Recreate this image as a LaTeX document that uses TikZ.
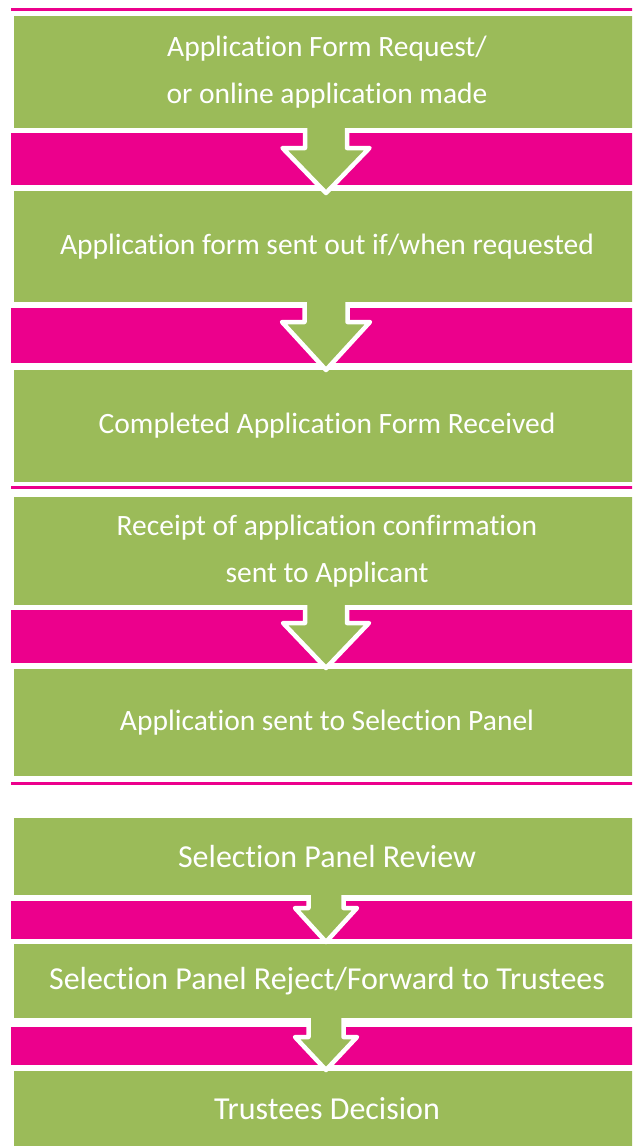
\documentclass[tikz,border=0pt]{standalone}
\usepackage{fontspec}
\setmainfont{Carlito}[Ligatures=NoCommon]
\usetikzlibrary{calc}
\definecolor{olivegreen}{RGB}{155,187,89}
\definecolor{hotpink}{RGB}{236,0,140}
\tikzset{
  gbox/.style={fill=olivegreen, draw=none, minimum width=626pt, inner sep=0pt, outer sep=0pt,
    text=white, font=\fontsize{29.5}{46.5}\selectfont, align=center},
  gboxlarge/.style={gbox, font=\fontsize{32}{46.5}\selectfont},
  pband/.style={fill=hotpink, draw=none, minimum width=629pt, inner sep=0pt, outer sep=0pt},
  pline/.style={fill=hotpink, draw=none},
  downarrow/.style={fill=olivegreen, draw=white, line width=4.5pt, line join=round}
}
\begin{document}
\begin{tikzpicture}[x=1pt,y=-1pt]
\useasboundingbox (0,0) rectangle (632,1146);
\clip (0,0) rectangle (632,1146);
\fill[white] (0,0) rectangle (632,1146);

% pink separator lines
\path[pline] (11,8) rectangle (640,11);
\path[pline] (11,486) rectangle (640,489);
\path[pline] (11,782) rectangle (640,785);

% pink bands
\node[pband, minimum height=52pt] (p1) at (325.5,159) {};
\node[pband, minimum height=55pt] (p2) at (325.5,335.5) {};
\node[pband, minimum height=53pt] (p3) at (325.5,636.5) {};
\node[pband, minimum height=38pt] (p4) at (325.5,920) {};
\node[pband, minimum height=38pt] (p5) at (325.5,1046) {};

% green boxes
\node[gbox, minimum height=112pt] (g1) at (327,72) {Application Form Request/\\or online application made};
\node[gbox, minimum height=111pt] (g2) at (327,246.5) {Application form sent out if/when requested};
\node[gbox, minimum height=112pt] (g3) at (327,426) {Completed Application Form Received};
\node[gbox, minimum height=108pt] (g4) at (327,551) {Receipt of application confirmation\\sent to Applicant};
\node[gbox, minimum height=107pt] (g5) at (327,722.5) {Application sent to Selection Panel};
\node[gboxlarge, minimum height=77pt] (g6) at (327,856.5) {Selection Panel Review};
\node[gboxlarge, minimum height=74pt] (g7) at (327,981) {Selection Panel Reject/Forward to Trustees};
\node[gboxlarge, minimum height=76pt] (g8) at (327,1109) {Trustees Decision};

% arrows: #1 upper box, #2 band, #3 shaft half, #4 head half, #5 head offset, #6 tip offset
\newcommand\flowarrow[6]{%
  \path[downarrow] let \p1=(#1.south), \p2=(#2.north), \p3=(#2.south) in
    (\x1-1pt-#3,\y1) -- (\x1-1pt-#3,\y2-#5) -- (\x1-1pt-#4,\y2-#5)
    -- (\x1-1pt,\y3-#6) -- (\x1-1pt+#4,\y2-#5) -- (\x1-1pt+#3,\y2-#5) -- (\x1-1pt+#3,\y1);
}
\flowarrow{g1}{p1}{21pt}{43.5pt}{15pt}{8pt}
\flowarrow{g2}{p2}{21.5pt}{44pt}{14pt}{7pt}
\flowarrow{g4}{p3}{21pt}{43pt}{13pt}{5pt}
\flowarrow{g6}{p4}{17.5pt}{31pt}{7pt}{3pt}
\flowarrow{g7}{p5}{17.5pt}{31pt}{10pt}{5pt}
\end{tikzpicture}
\end{document}
